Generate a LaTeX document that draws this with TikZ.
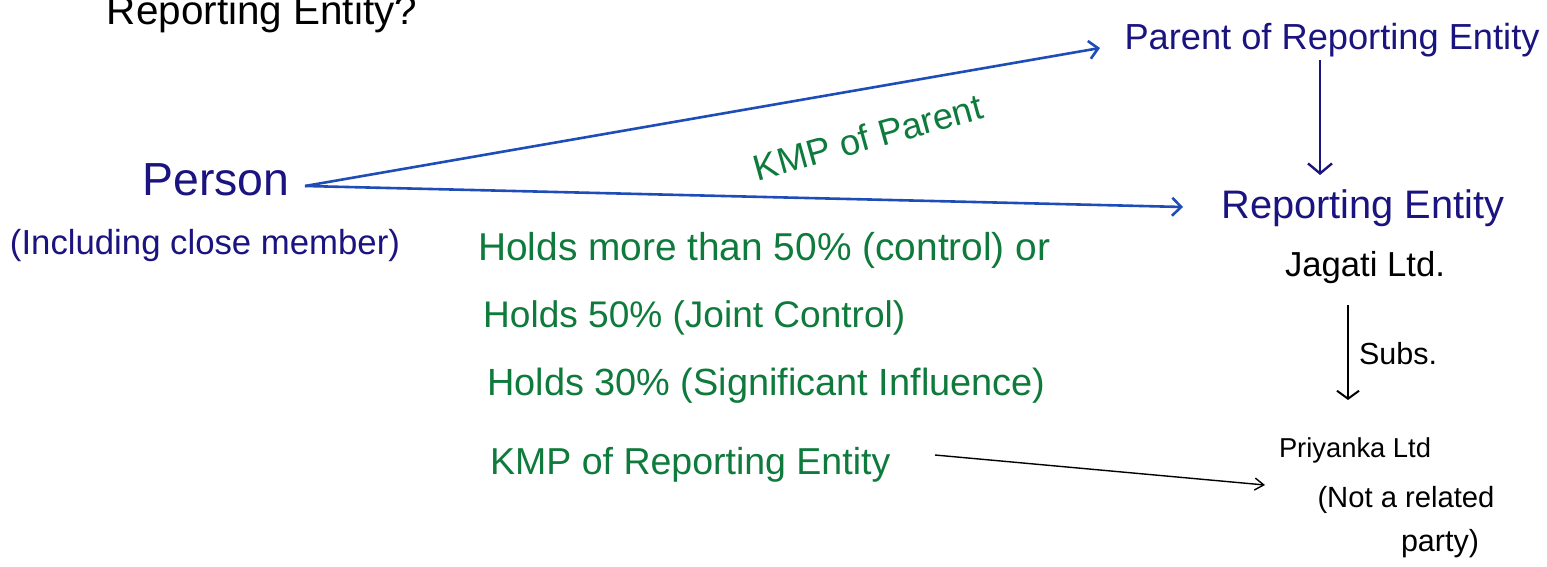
\documentclass[tikz,border=0pt]{standalone}
\usepackage{fontspec}
\setmainfont{Liberation Sans}
\usetikzlibrary{arrows.meta}
\definecolor{navy}{HTML}{1B1480}
\definecolor{lineblue}{HTML}{1F4DB8}
\definecolor{hgreen}{HTML}{0E7A3C}
\newcommand{\fw}[2]{\resizebox{#1}{!}{#2}}
\tikzset{
  txt/.style={inner sep=0pt, anchor=center},
  navytxt/.style={txt, text=navy},
  greentxt/.style={txt, text=hgreen},
  blacktxt/.style={txt, text=black},
  bluearrow/.style={draw=lineblue, line width=2.6pt, -{Straight Barb[length=9pt,width=18pt,line width=2.6pt]}},
  navyarrow/.style={draw=navy, line width=2.4pt, -{Straight Barb[length=10pt,width=24pt,line width=2.4pt]}},
  blackarrow/.style={draw=black, line width=2pt, -{Straight Barb[length=8pt,width=22pt,line width=2pt]}},
  thinarrow/.style={draw=black, line width=1.4pt, -{Straight Barb[length=9pt,width=12pt,line width=1.4pt]}}
}
\begin{document}
\begin{tikzpicture}[x=1pt,y=-1pt]
\useasboundingbox (0,0) rectangle (1547,567);
% top-left cut-off title
\node[blacktxt] (title) at (262,14) {\fw{310pt}{Reporting Entity?}};
% nodes
\node[navytxt] (parent) at (1332,40) {\fw{415pt}{Parent of Reporting Entity}};
\node[navytxt] (rep) at (1363,208) {\fw{283pt}{Reporting Entity}};
\node[blacktxt] (jagati) at (1365,268) {\fw{160pt}{Jagati Ltd.}};
\node[blacktxt] (subs) at (1398,354) {\fw{78pt}{Subs.}};
\node[blacktxt] (priyanka) at (1355,450) {\fw{152pt}{Priyanka Ltd}};
\node[blacktxt] (notrel) at (1406,500) {\fw{177pt}{(Not a related}};
\node[blacktxt] (party) at (1440,544) {\fw{78pt}{party)}};
\node[navytxt] (person) at (216,180) {\fw{147pt}{Person}};
\node[navytxt] (incl) at (205,246) {\fw{390pt}{(Including close member)}};
\node[greentxt, rotate=15.5] (kmpp) at (868,137) {\fw{236pt}{KMP of Parent}};
\node[greentxt, anchor=west] (h1) at (478,250) {\fw{572pt}{Holds more than 50\% (control) or}};
\node[greentxt, anchor=west] (h2) at (483,318) {\fw{422pt}{Holds 50\% (Joint Control)}};
\node[greentxt, anchor=west] (h3) at (487,386) {\fw{558pt}{Holds 30\% (Significant Influence)}};
\node[greentxt, anchor=west] (kmpr) at (490,465) {\fw{400pt}{KMP of Reporting Entity}};
% connector end points
\coordinate (ps) at (305,186);
\coordinate (pe) at (1100,48);
\coordinate (re) at (1183,207);
\coordinate (vs) at (1320,60);
\coordinate (ve) at (1320,175);
\coordinate (ss) at (1348,305);
\coordinate (se) at (1348,400);
\coordinate (ks) at (935,455);
\coordinate (ke) at (1265,485);
% connectors
\draw[bluearrow] (ps) -- (pe);
\draw[bluearrow] (ps) -- (re);
\draw[navyarrow] (vs) -- (ve);
\draw[blackarrow] (ss) -- (se);
\draw[thinarrow] (ks) -- (ke);
\end{tikzpicture}
\end{document}
